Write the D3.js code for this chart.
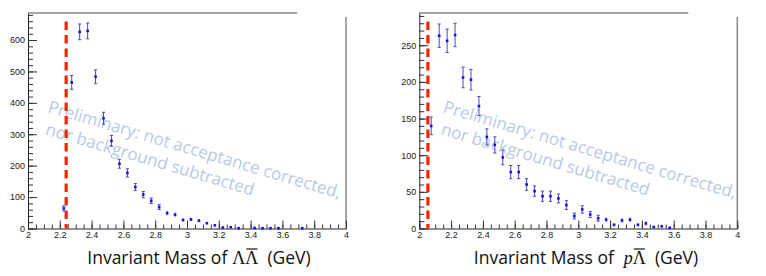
<!DOCTYPE html>
<meta charset="utf-8">
<script src="https://d3js.org/d3.v7.js"></script>
<style>
  body { margin: 0; background: #fff; }
  .tick text { font-family: "Liberation Sans", Arial, sans-serif; font-size: 9px; fill: #222; }
</style>
<svg id="chart" width="766" height="276"></svg>
<script>

// Lambda-antiLambda invariant mass spectrum
const llMass = [2.225, 2.275, 2.325, 2.375, 2.425, 2.475, 2.525, 2.575, 2.625, 2.675,
  2.725, 2.775, 2.825, 2.875, 2.925, 2.975, 3.025, 3.075, 3.125, 3.175,
  3.225, 3.275, 3.325, 3.425, 3.475, 3.525, 3.575, 3.725];
const llCounts = [64, 465, 626, 629, 483, 351, 279, 206, 177, 132,
  108, 88, 68, 49, 44, 27, 29, 25, 17, 10,
  3, 4, 1, 2, 1, 1, 1, 1];
const llErrors = [8, 22, 25, 25, 22, 19, 17, 14, 13, 11,
  10, 9, 8, 7, 7, 5, 5, 5, 4, 3,
  2, 2, 1, 1, 1, 1, 1, 1];

// p-antiLambda invariant mass spectrum
const plMass = [2.075, 2.125, 2.175, 2.225, 2.275, 2.325, 2.375, 2.425, 2.475, 2.525,
  2.575, 2.625, 2.675, 2.725, 2.775, 2.825, 2.875, 2.925, 2.975, 3.025,
  3.075, 3.125, 3.175, 3.225, 3.275, 3.325, 3.375, 3.425, 3.475, 3.525, 3.575];
const plCounts = [140, 263, 256, 264, 206, 203, 167, 125, 114, 97,
  77, 77, 60, 51, 44, 44, 41, 32, 17, 26,
  19, 14, 12, 5, 11, 12, 5, 7, 2, 3, 1];
const plErrors = [12, 16, 16, 16, 14, 14, 13, 11, 11, 10,
  9, 9, 8, 7, 7, 7, 6, 6, 4, 5,
  4, 4, 3, 2, 3, 3, 2, 3, 1, 2, 1];

// axis ticks
const massTicks = [2, 2.2, 2.4, 2.6, 2.8, 3, 3.2, 3.4, 3.6, 3.8, 4];
const llYTicks = [0, 100, 200, 300, 400, 500, 600];
const plYTicks = [0, 50, 100, 150, 200, 250];
const thresholds = [2.24, 2.054];   // red dashed lines

const watermark = ["Preliminary: not acceptance corrected,", "nor background subtracted"];

const svg = d3.select("#chart");
const sans = "'Open Sans', sans-serif";
const serif = "'Liberation Serif', 'DejaVu Serif', serif";

function drawPanel(opt) {
  const x = d3.scaleLinear().domain([2, 4]).range([opt.left, opt.left + 318]);
  const y = d3.scaleLinear().domain([0, opt.yMax]).range([228.5, 13]);
  const g = svg.append("g");

  // frame pieces (top and right)
  g.append("line")
    .attr("x1", opt.left).attr("x2", opt.left + 269)
    .attr("y1", 13).attr("y2", 13)
    .attr("stroke", "#8a8a8a").attr("stroke-width", 1.5);
  g.append("line")
    .attr("x1", x(4)).attr("x2", x(4))
    .attr("y1", 17).attr("y2", 229)
    .attr("stroke", "#8a8a8a").attr("stroke-width", 1.5);

  // minor ticks
  const xMinor = d3.range(2, 4.001, 0.05);
  g.append("g")
    .attr("transform", `translate(0,${y(0)})`)
    .call(d3.axisBottom(x).tickValues(xMinor).tickSize(-4).tickFormat(""))
    .call(a => a.select(".domain").remove())
    .call(a => a.selectAll("line").attr("stroke", "#333"));
  const yMinor = d3.range(0, opt.yMax, opt.yMinorStep);
  g.append("g")
    .attr("transform", `translate(${opt.left},0)`)
    .call(d3.axisLeft(y).tickValues(yMinor).tickSize(-5).tickFormat(""))
    .call(a => a.select(".domain").remove())
    .call(a => a.selectAll("line").attr("stroke", "#333"));

  // major axes
  g.append("g")
    .attr("transform", `translate(0,${y(0)})`)
    .call(d3.axisBottom(x).tickValues(massTicks).tickSize(-8).tickPadding(3)
      .tickSizeOuter(0).tickFormat(d => String(+d.toFixed(1))))
    .call(a => a.select(".domain").attr("stroke", "#222"))
    .call(a => a.selectAll("line").attr("stroke", "#333"));
  g.append("g")
    .attr("transform", `translate(${opt.left},0)`)
    .call(d3.axisLeft(y).tickValues(opt.yTicks).tickSize(-9).tickPadding(3)
      .tickSizeOuter(0))
    .call(a => a.select(".domain").attr("stroke", "#222"))
    .call(a => a.selectAll("line").attr("stroke", "#333"));

  // watermark
  const wm = g.append("text")
    .attr("transform", `translate(${opt.left + opt.wmOffset},${112}) rotate(16.5)`)
    .attr("font-family", sans)
    .attr("font-size", 17)
    .attr("fill", "#b7cae6");
  wm.selectAll("tspan").data(watermark).join("tspan")
    .attr("x", (d, i) => i === 0 ? 0 : 4)
    .attr("dy", (d, i) => i === 0 ? 0 : 22)
    .text(d => d);

  // threshold line
  g.append("line")
    .attr("x1", x(opt.threshold)).attr("x2", x(opt.threshold))
    .attr("y1", 21.5).attr("y2", y(0))
    .attr("stroke", "#ff2200").attr("stroke-width", 3.2)
    .attr("stroke-dasharray", "8.5,5");

  // data points with error bars
  const pts = opt.mass.map((m, i) => ({ m, n: opt.counts[i], e: opt.errors[i] }));
  const pg = g.append("g").selectAll("g").data(pts).join("g");
  pg.append("line")
    .attr("x1", d => x(d.m)).attr("x2", d => x(d.m))
    .attr("y1", d => y(d.n + d.e)).attr("y2", d => y(Math.max(0, d.n - d.e)))
    .attr("stroke", "#4a4ac4").attr("stroke-width", 1);
  pg.selectAll(".cap").data(d => [d.n + d.e, Math.max(0, d.n - d.e)].map(v => ({ m: d.m, v, e: d.e })))
    .join("line")
    .attr("class", "cap")
    .filter(d => y(0) - y(d.e) > 2.5)
    .attr("x1", d => x(d.m) - 1.6).attr("x2", d => x(d.m) + 1.6)
    .attr("y1", d => y(d.v)).attr("y2", d => y(d.v))
    .attr("stroke", "#4a4ac4").attr("stroke-width", 1);
  pg.append("rect")
    .attr("x", d => x(d.m) - 1.3).attr("y", d => y(d.n) - 1.3)
    .attr("width", 2.6).attr("height", 2.6)
    .attr("fill", "#1010ff");

  // axis title, built piece by piece so the bar over the anti-particle can be drawn
  const tg = g.append("g");
  let cx = 0;
  opt.titleParts.forEach(p => {
    const t = tg.append("text")
      .attr("x", cx).attr("y", 264)
      .attr("font-family", p.serif ? serif : sans)
      .attr("font-style", p.italic ? "italic" : null)
      .attr("font-size", p.serif ? 18 : 17.5)
      .attr("fill", "#111")
      .text(p.text);
    const w = t.node().getComputedTextLength();
    if (p.bar) {
      tg.append("line")
        .attr("x1", cx + 1).attr("x2", cx + w - 1)
        .attr("y1", 249).attr("y2", 249)
        .attr("stroke", "#111").attr("stroke-width", 1.2);
    }
    cx += w + (p.gap || 0);
  });
  tg.attr("transform", `translate(${opt.titleX - cx / 2},0)`);
}

drawPanel({
  left: 28, yMax: 686, yTicks: llYTicks, yMinorStep: 20,
  mass: llMass, counts: llCounts, errors: llErrors,
  threshold: thresholds[0], titleX: 199, wmOffset: 19,
  titleParts: [
    { text: "Invariant Mass of", gap: 5 },
    { text: "\u039B", serif: true },
    { text: "\u039B", serif: true, bar: true, gap: 9 },
    { text: "(GeV)" }
  ]
});

drawPanel({
  left: 419.3, yMax: 294, yTicks: plYTicks, yMinorStep: 10,
  mass: plMass, counts: plCounts, errors: plErrors,
  threshold: thresholds[1], titleX: 586, wmOffset: 23,
  titleParts: [
    { text: "Invariant Mass of", gap: 10 },
    { text: "p", serif: true, italic: true },
    { text: "\u039B", serif: true, bar: true, gap: 9 },
    { text: "(GeV)" }
  ]
});

</script>
